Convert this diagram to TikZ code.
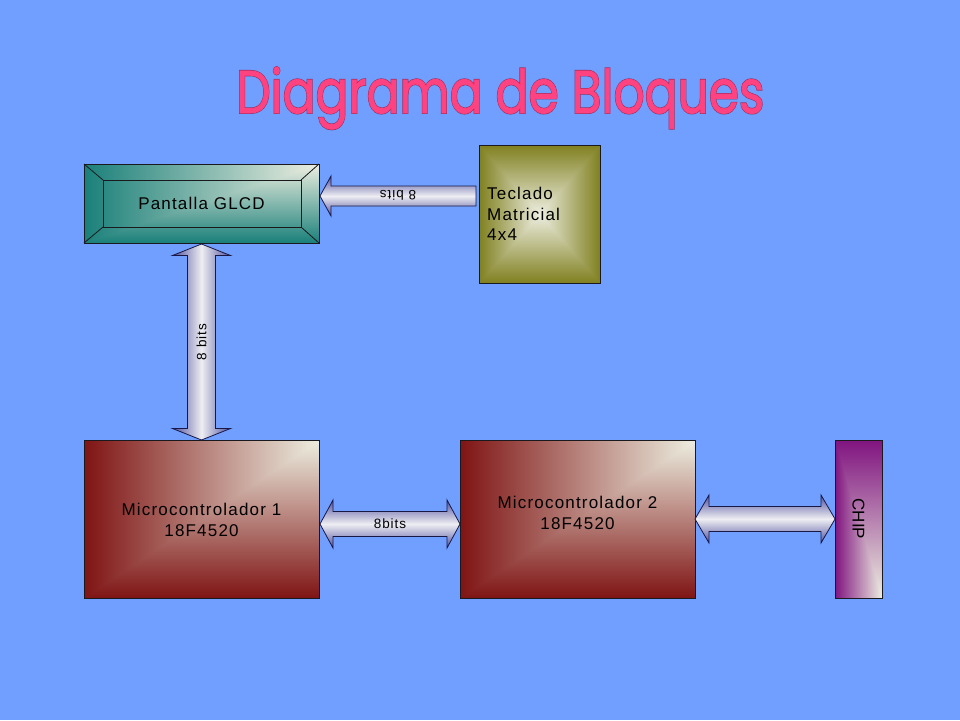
\documentclass[tikz,border=0pt]{standalone}
\usepackage{fontspec}
\setmainfont{Liberation Sans}
\newfontfamily\boxfont[LetterSpace=7]{Liberation Sans}
\newfontfamily\titlefont[FakeBold=1.2]{Poppins}
\newfontfamily\titlefontB[FakeBold=3.2]{Poppins}
\usetikzlibrary{calc}
\definecolor{bg}{RGB}{112,159,255}
\definecolor{cream}{RGB}{237,238,224}
\definecolor{mred}{RGB}{127,20,20}
\definecolor{tealc}{RGB}{26,128,122}
\definecolor{olivec}{RGB}{128,128,32}
\definecolor{purpc}{RGB}{128,20,128}
\definecolor{arrdark}{RGB}{80,80,160}
\definecolor{arrlight}{RGB}{238,238,242}
\definecolor{arredge}{RGB}{24,24,70}
\definecolor{boxedge}{RGB}{25,25,30}
\definecolor{titlepink}{RGB}{255,66,128}
\definecolor{titleedge}{RGB}{150,45,95}

\newcommand{\hdarrow}[5]{% left tip, right tip, head length, head half width, shaft half width
  \shade[arrowH] let \p1=(#1), \p2=(#2) in
   (\x1,\y1) -- (\x1+#3pt,\y1+#4pt) -- (\x1+#3pt,\y1+#5pt) -- (\x2-#3pt,\y1+#5pt)
   -- (\x2-#3pt,\y1+#4pt) -- (\x2,\y1) -- (\x2-#3pt,\y1-#4pt) -- (\x2-#3pt,\y1-#5pt)
   -- (\x1+#3pt,\y1-#5pt) -- (\x1+#3pt,\y1-#4pt) -- cycle;}
\newcommand{\vdarrow}[5]{% top tip, bottom tip, head length, head half width, shaft half width
  \shade[arrowV] let \p1=(#1), \p2=(#2) in
   (\x1,\y1) -- (\x1+#4pt,\y1-#3pt) -- (\x1+#5pt,\y1-#3pt) -- (\x1+#5pt,\y2+#3pt)
   -- (\x1+#4pt,\y2+#3pt) -- (\x1,\y2) -- (\x1-#4pt,\y2+#3pt) -- (\x1-#5pt,\y2+#3pt)
   -- (\x1-#5pt,\y1-#3pt) -- (\x1-#4pt,\y1-#3pt) -- cycle;}
\newcommand{\hlarrow}[5]{% left tip, right tail, head length, head half width, shaft half width
  \shade[arrowH] let \p1=(#1), \p2=(#2) in
   (\x1,\y1) -- (\x1+#3pt,\y1+#4pt) -- (\x1+#3pt,\y1+#5pt) -- (\x2,\y1+#5pt)
   -- (\x2,\y1-#5pt) -- (\x1+#3pt,\y1-#5pt) -- (\x1+#3pt,\y1-#4pt) -- cycle;}

\begin{document}
\begin{tikzpicture}[x=1pt,y=-1pt,
  box/.style={rectangle, draw=boxedge, line width=0.8pt, inner sep=0pt, outer sep=0pt, anchor=north west},
  boxtext/.style={inner sep=0pt, text=black, font=\boxfont\fontsize{17}{20.5}\selectfont, align=center},
  lbl/.style={inner sep=0pt, text=black, font=\boxfont\fontsize{13.5}{16}\selectfont},
  arrowH/.style={draw=arredge, line width=0.8pt, line join=miter, top color=arrdark, bottom color=arrdark, middle color=arrlight},
  arrowV/.style={draw=arredge, line width=0.8pt, line join=miter, left color=arrdark, right color=arrdark, middle color=arrlight},
  cornerTR/.style 2 args={path picture={
     \coordinate (qSW) at (path picture bounding box.south west);
     \coordinate (qNE) at (path picture bounding box.north east);
     \coordinate (qSE) at (path picture bounding box.south east);
     \shade[left color=#1, right color=#2] (qSW) rectangle (qNE);
     \begin{scope}
       \clip (qSW) -- (qNE) -- (qSE) -- cycle;
       \shade[bottom color=#1, top color=#2] (qSW) rectangle (qNE);
     \end{scope}}},
  cornerBR/.style 2 args={path picture={
     \coordinate (qSW) at (path picture bounding box.south west);
     \coordinate (qNE) at (path picture bounding box.north east);
     \coordinate (qNW) at (path picture bounding box.north west);
     \coordinate (qSE) at (path picture bounding box.south east);
     \shade[left color=#1, right color=#2] (qSW) rectangle (qNE);
     \begin{scope}
       \clip (qNW) -- (qNE) -- (qSE) -- cycle;
       \shade[top color=#1, bottom color=#2] (qSW) rectangle (qNE);
     \end{scope}}},
  pyramid/.style 2 args={path picture={
     \coordinate (qSW) at (path picture bounding box.south west);
     \coordinate (qNE) at (path picture bounding box.north east);
     \coordinate (qNW) at (path picture bounding box.north west);
     \coordinate (qSE) at (path picture bounding box.south east);
     \coordinate (qC) at (path picture bounding box.center);
     \shade[left color=#1, right color=#1, middle color=#2] (qSW) rectangle (qNE);
     \begin{scope}
       \clip (qNW) -- (qNE) -- (qC) -- cycle (qSW) -- (qSE) -- (qC) -- cycle;
       \shade[top color=#1, bottom color=#1, middle color=#2] (qSW) rectangle (qNE);
     \end{scope}}}
]
\fill[bg] (0,0) rectangle (960,720);
\useasboundingbox (0,0) rectangle (960,720);

% title
\node[anchor=base west, inner sep=0pt] (title) at (236,113)
  {\resizebox{528pt}{46pt}{\makebox[0pt][l]{\color{titleedge}\titlefontB Diagrama de Bloques}{\color{titlepink}\titlefont Diagrama de Bloques}}};

% boxes
\node[box, minimum width=235, minimum height=79, cornerTR={tealc}{cream}] (lcd) at (84,164) {};
\draw[boxedge, line width=0.8pt]
  ($(lcd.north west)+(19,16)$) coordinate (i1) -- ($(lcd.north east)+(-18,16)$) coordinate (i2)
  -- ($(lcd.south east)+(-18,-16)$) coordinate (i3) -- ($(lcd.south west)+(19,-16)$) coordinate (i4) -- cycle;
\draw[boxedge, line width=0.8pt] (lcd.north west) -- (i1) (lcd.north east) -- (i2)
  (lcd.south east) -- (i3) (lcd.south west) -- (i4);
\node[boxtext] (lcdtxt) at (lcd.center) {Pantalla GLCD};

\node[box, minimum width=121, minimum height=138, pyramid={olivec}{cream}] (tk) at (479,145) {};
\node[boxtext, align=left, anchor=west] (tktxt) at (487,214) {Teclado\\Matricial\\4x4};

\node[box, minimum width=235, minimum height=158, cornerTR={mred}{cream}] (m1) at (84,440) {};
\node[boxtext] (m1txt) at ($(m1.center)+(0,1)$) {Microcontrolador 1\\18F4520};

\node[box, minimum width=235, minimum height=158, cornerTR={mred}{cream}] (m2) at (460,440) {};
\node[boxtext] (m2txt) at ($(m2.center)+(0,-6)$) {Microcontrolador 2\\18F4520};

\node[box, minimum width=47, minimum height=158, cornerBR={purpc}{cream}] (chip) at (835,440) {};
\node[boxtext, rotate=-90, font=\fontsize{17}{18}\selectfont] (chiptxt) at (chip.center) {CHIP};

% connectors
\coordinate (t1) at ($(lcd.east)+(1,-7.5)$);
\coordinate (t2) at ($(tk.west |- t1)+(-3,0)$);
\hlarrow{t1}{t2}{11}{20}{10}
\node[lbl, rotate=180] (t12) at ($(t1)!0.5!(t2)+(0,-1)$) {8 bits};

\coordinate (v1) at ($(lcd.south)+(0,1)$);
\coordinate (v2) at (m1.north);
\vdarrow{v1}{v2}{11.5}{29}{14}
\node[lbl, rotate=90] (v12) at ($(v1)!0.5!(v2)$) {8 bits};

\coordinate (h1) at ($(m1.east)+(1,5)$);
\coordinate (h2) at ($(m2.west)+(0,5)$);
\hdarrow{h1}{h2}{13}{24}{12.5}
\node[lbl] (h12) at ($(h1)!0.5!(h2)$) {8bits};

\coordinate (c1) at ($(m2.east)+(0,0)$);
\coordinate (c2) at (chip.west);
\hdarrow{c1}{c2}{14}{24}{12.5}
\end{tikzpicture}
\end{document}
